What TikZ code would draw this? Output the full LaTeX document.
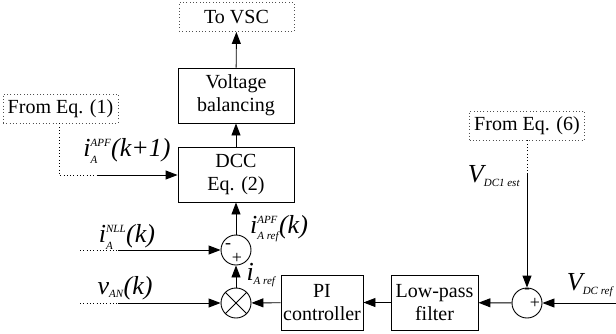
\documentclass[tikz,border=0pt]{standalone}
\usepackage{amsmath}
\usepackage{fontspec}
\setmainfont{Liberation Serif}
\usetikzlibrary{arrows.meta,positioning,calc}
\definecolor{dotgray}{RGB}{80,80,80}
\newcommand{\sv}[1]{\hbox{\fontsize{11}{11}\selectfont\itshape #1}}
\tikzset{
  blk/.style={draw, line width=0.9pt, minimum width=116pt, minimum height=55pt, align=center, inner sep=0pt, font=\fontsize{20}{23}\selectfont},
  dbox/.style={draw=dotgray, dash pattern=on 0.9pt off 2.4pt, line width=0.9pt, minimum width=115pt, minimum height=29pt, inner sep=0pt, font=\fontsize{20}{23}\selectfont},
  sumc/.style={draw, circle, line width=0.9pt, minimum size=30pt, inner sep=0pt},
  sig/.style={font=\fontsize{18}{18}\selectfont, inner sep=0pt},
  arr/.style={-{Triangle[length=12pt,width=9pt]}, line width=0.9pt},
  dline/.style={dash pattern=on 0.9pt off 2.4pt, line width=0.9pt},
  lab/.style={font=\fontsize{26}{28}\selectfont, inner sep=0pt},
}
\begin{document}
\begin{tikzpicture}[x=1pt, y=-1pt]
\useasboundingbox (0,0) rectangle (616,333);
% blocks
\node[dbox] (vsc) at (236.5,17) {To VSC};
\node[blk] (vbal) at (236,95.5) {Voltage\\balancing};
\node[blk] (dcc) at (236,174.5) {DCC\\Eq. (2)};
\node[dbox] (eq1) at (60.5,108.5) {From Eq. (1)};
\node[dbox] (eq6) at (527,125.5) {From Eq. (6)};
\node[sumc] (sumA) at (236,250) {};
\node[sumc] (mul) at (236,303) {};
\draw[line width=0.9pt] (mul.north east) -- (mul.south west) (mul.north west) -- (mul.south east);
\node[blk, minimum width=82pt] (pi) at (322,302.5) {PI\\controller};
\node[blk, minimum width=87pt] (lpf) at (434.5,302.5) {Low-pass\\filter};
\node[sumc] (sumB) at (527,303) {};
% signs
\node[sig] (sAm) at (228,246) {-};
\node[sig] (sAp) at (237,258) {+};
\node[sig] (sBm) at (527,291) {-};
\node[sig] (sBp) at (535,303) {+};
% free ends
\coordinate (eq1in) at (98,175);
\coordinate (nllin) at (80,250);
\coordinate (nllsol) at (118,250);
\coordinate (vanin) at (80,303);
\coordinate (vansol) at (118,303);
\coordinate (estsol) at (527,173);
\coordinate (vdcin) at (616,303);
% connectors
\draw[arr] (dcc) -- (vbal);
\draw[arr] (vbal) -- (vsc);
\draw[dline] (eq1.south -| 59,0) |- (eq1in);
\draw[arr] (eq1in) -- (dcc.west |- eq1in);
\draw[dline] (nllin) -- (nllsol);
\draw[arr] (nllsol) -- (sumA.west);
\draw[dline] (vanin) -- (vansol);
\draw[arr] (vansol) -- (mul.west);
\draw[arr] (sumA) -- (dcc);
\draw[arr] (mul) -- (sumA);
\draw[arr] (pi) -- (mul);
\draw[arr] (lpf) -- (pi);
\draw[arr] (sumB) -- (lpf);
\draw[arr] (vdcin) -- (sumB.east);
\draw[dline] (eq6) -- (estsol);
\draw[arr] (estsol) -- (sumB.north);
% labels
\node[lab] (lAPF1) at (127,151) {$\textit{i}^{\sv{APF}}_{\sv{A}}\textit{(k+1)}$};
\node[lab] (lNLL) at (127,237) {$\textit{i}^{\sv{NLL}}_{\sv{A}}\textit{(k)}$};
\node[lab] (lVAN) at (125,288) {$\textit{v}_{\sv{AN}}\textit{(k)}$};
\node[lab] (lAPFref) at (279,229) {$\textit{i}^{\sv{APF}}_{\sv{A ref}}\textit{(k)}$};
\node[lab] (lIref) at (261,275) {$\textit{i}_{\sv{A ref}}$};
\node[lab] (lVest) at (494,176) {$\textit{V}_{\sv{DC1 est}}$};
\node[lab] (lVref) at (590,285) {$\textit{V}_{\sv{DC ref}}$};
\end{tikzpicture}
\end{document}
